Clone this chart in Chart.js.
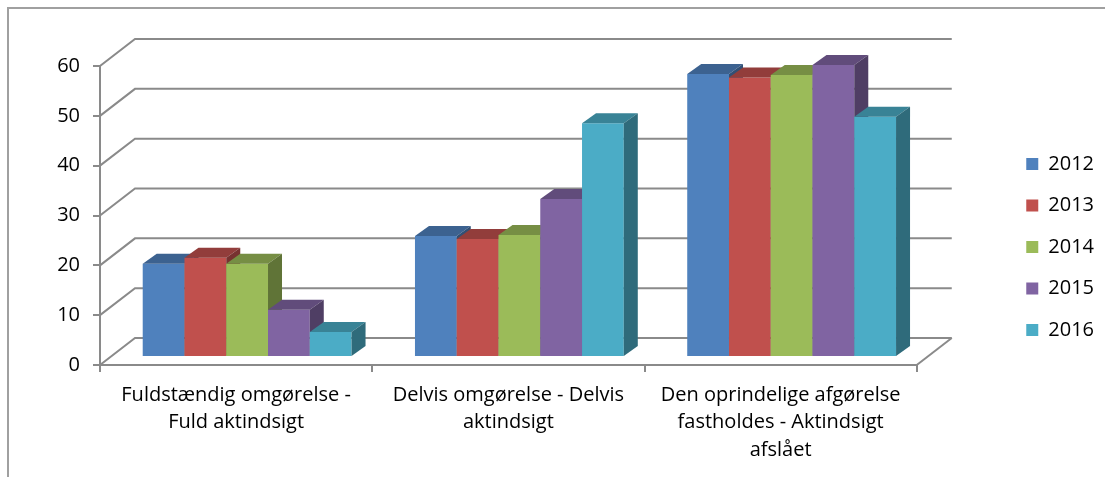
<!DOCTYPE html>
<html>
<head>
<meta charset="utf-8">
<script src="https://cdn.jsdelivr.net/npm/chart.js@4"></script>
<style>
html, body { margin: 0; padding: 0; background: #fff; }
</style>
</head>
<body>
<canvas id="myChart" width="1105" height="477"></canvas>
<script>
const CHART = document.getElementById('myChart');

// data (percent per year)
const categories = [
    ['Fuldstændig omgørelse -', 'Fuld aktindsigt'],
    ['Delvis omgørelse - Delvis', 'aktindsigt'],
    ['Den oprindelige afgørelse', 'fastholdes - Aktindsigt', 'afslået']
];
const years = ['2012', '2013', '2014', '2015', '2016'];
const values2012 = [18.7, 24.3, 56.8];
const values2013 = [19.9, 23.7, 56.1];
const values2014 = [18.7, 24.5, 56.6];
const values2015 = [9.5, 31.7, 58.6];
const values2016 = [5.0, 46.9, 48.2];
const yTicks = [0, 10, 20, 30, 40, 50, 60];

const colors = ['#4f81bd', '#c0504d', '#9bbb59', '#8064a2', '#4bacc6'];
const GRID = '#8a8a8a';
const FONT = { family: 'Open Sans', size: 20 };
const WALL = { x: 35, y: -27 };   // depth of back wall
const SHIFT = { x: 11, y: -8 };   // bars sit a bit behind the front
const TOP = { x: 14, y: -10 };    // depth of a bar

const shade = (hex, f) => {
    const n = parseInt(hex.slice(1), 16);
    const r = Math.round(((n >> 16) & 255) * f);
    const g = Math.round(((n >> 8) & 255) * f);
    const b = Math.round((n & 255) * f);
    return `rgb(${r},${g},${b})`;
};

const boxPlugin = {
    id: 'box3d',
    beforeDraw(chart) {
        const ctx = chart.ctx;
        const x = chart.scales.x, y = chart.scales.y;
        ctx.save();
        // outer frame
        ctx.strokeStyle = '#a0a0a0';
        ctx.lineWidth = 2;
        ctx.beginPath();
        ctx.moveTo(8, 477);
        ctx.lineTo(8, 8);
        ctx.lineTo(1105, 8);
        ctx.stroke();
        // back wall grid + left wall diagonals
        ctx.strokeStyle = GRID;
        ctx.lineWidth = 2;
        yTicks.forEach(v => {
            const py = y.getPixelForValue(v);
            ctx.beginPath();
            ctx.moveTo(x.left, py);
            ctx.lineTo(x.left + WALL.x, py + WALL.y);
            ctx.lineTo(x.right + WALL.x, py + WALL.y);
            ctx.stroke();
        });
        // floor right edge
        const p0 = y.getPixelForValue(0);
        ctx.beginPath();
        ctx.moveTo(x.right, p0);
        ctx.lineTo(x.right + WALL.x, p0 + WALL.y);
        ctx.stroke();
        ctx.restore();
    },
    beforeDatasetsDraw(chart) {
        const ctx = chart.ctx;
        ctx.save();
        ctx.translate(SHIFT.x, SHIFT.y);
        chart.data.datasets.forEach((ds, i) => {
            const meta = chart.getDatasetMeta(i);
            meta.data.forEach(bar => {
                const { x, y, base, width } = bar.getProps(['x', 'y', 'base', 'width'], true);
                const l = x - width / 2, r = x + width / 2;
                bar.draw(ctx);
                ctx.fillStyle = shade(ds.backgroundColor, 0.76);
                ctx.beginPath();
                ctx.moveTo(l, y);
                ctx.lineTo(l + TOP.x, y + TOP.y);
                ctx.lineTo(r + TOP.x, y + TOP.y);
                ctx.lineTo(r, y);
                ctx.closePath();
                ctx.fill();
                ctx.fillStyle = shade(ds.backgroundColor, 0.62);
                ctx.beginPath();
                ctx.moveTo(r, y);
                ctx.lineTo(r + TOP.x, y + TOP.y);
                ctx.lineTo(r + TOP.x, base + TOP.y);
                ctx.lineTo(r, base);
                ctx.closePath();
                ctx.fill();
            });
        });
        ctx.restore();
        return false;
    }
};

const seriesValues = [values2012, values2013, values2014, values2015, values2016];

new Chart(CHART, {
    type: 'bar',
    data: {
        labels: categories,
        datasets: years.map((yr, i) => ({
            label: yr,
            data: seriesValues[i],
            backgroundColor: colors[i],
            borderWidth: 0,
            barPercentage: 1,
            categoryPercentage: 0.767
        }))
    },
    options: {
        responsive: false,
        animation: false,
        layout: { padding: { top: 17, right: 1, bottom: 0, left: 0 } },
        plugins: {
            tooltip: { enabled: false },
            legend: {
                position: 'right',
                labels: {
                    boxWidth: 12,
                    boxHeight: 12,
                    padding: 21.5,
                    color: '#000',
                    font: FONT
                }
            }
        },
        scales: {
            x: {
                type: 'category',
                grid: { display: true, drawOnChartArea: false, drawTicks: true, tickLength: 7, color: GRID, lineWidth: 2, offset: true },
                border: { display: true, color: GRID, width: 2 },
                ticks: { color: '#000', font: { family: 'Open Sans', size: 20, lineHeight: 1.38 }, padding: 9, maxRotation: 0, autoSkip: false },
                afterFit(s) { s.height = 112; }
            },
            y: {
                min: 0,
                max: 60,
                grid: { display: true, drawOnChartArea: false, drawTicks: true, tickLength: 7, color: GRID, lineWidth: 2 },
                border: { display: true, color: GRID, width: 2 },
                ticks: { stepSize: 10, color: '#000', font: FONT, padding: 13 },
                afterFit(s) { s.width = 100; }
            },
            xTopSpace: {
                type: 'linear',
                axis: 'x',
                position: 'top',
                grid: { display: false },
                border: { display: false },
                ticks: { display: false },
                afterFit(s) { s.height = 49; }
            },
            yRightSpace: {
                type: 'linear',
                axis: 'y',
                position: 'right',
                grid: { display: false },
                border: { display: false },
                ticks: { display: false },
                afterFit(s) { s.width = 88; }
            }
        }
    },
    plugins: [boxPlugin]
});
</script>
</body>
</html>
